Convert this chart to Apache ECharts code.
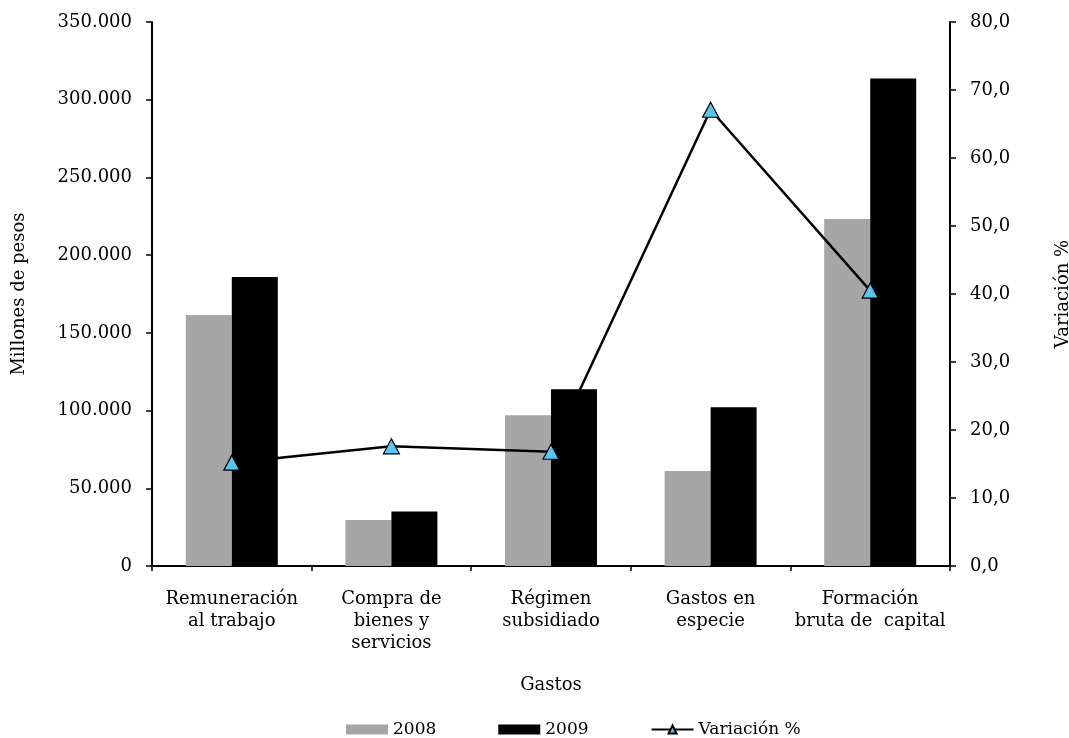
<!DOCTYPE html>
<html>
<head>
<meta charset="utf-8">
<script src="https://cdn.jsdelivr.net/npm/echarts@6/dist/echarts.min.js"></script>
<style>
html,body{margin:0;padding:0;background:#fff;}
#chart{width:1069px;height:738px;}
</style>
</head>
<body>
<div id="chart"></div>
<script>
const categories = ['Remuneración\nal trabajo', 'Compra de\nbienes y\nservicios', 'Régimen\nsubsidiado', 'Gastos en\nespecie', 'Formación\nbruta de  capital'];
const values2008 = [161500, 29600, 97000, 61200, 223200];
const values2009 = [186000, 35000, 113700, 102200, 313700];
const variacion = [15.2, 17.6, 16.8, 67.1, 40.5];
const seriesNames = ['2008', '2009', 'Variación %'];

const FONT = 'DejaVu Serif';
const chart = echarts.init(document.getElementById('chart'));

function fmtThousands(v) {
  return String(Math.round(v)).replace(/\B(?=(\d{3})+(?!\d))/g, '.');
}

chart.setOption({
  animation: false,
  textStyle: { fontFamily: FONT, color: '#000' },
  grid: { left: 152, right: 119, top: 22, bottom: 172, containLabel: false, outerBoundsMode: 'none' },
  legend: {
    top: 716,
    left: 341,
    itemGap: 62,
    itemWidth: 42,
    itemHeight: 10,
    textStyle: { fontFamily: FONT, fontSize: 17, color: '#000' },
    data: [
      { name: seriesNames[0], icon: 'rect' },
      { name: seriesNames[1], icon: 'rect' },
      { name: seriesNames[2] }
    ]
  },
  xAxis: {
    type: 'category',
    data: categories,
    name: 'Gastos',
    nameLocation: 'middle',
    nameGap: 110,
    nameTextStyle: { fontFamily: FONT, fontSize: 18, color: '#000' },
    axisLine: { lineStyle: { color: '#000', width: 2 } },
    axisTick: { show: true, length: 5, inside: false, lineStyle: { color: '#000', width: 1.5 } },
    axisLabel: { fontFamily: FONT, fontSize: 18, color: '#000', margin: 22, lineHeight: 22, interval: 0 }
  },
  yAxis: [
    {
      type: 'value',
      min: 0, max: 350000, interval: 50000,
      name: 'Millones de pesos',
      nameLocation: 'middle',
      nameRotate: 90,
      nameGap: 124,
      nameTextStyle: { fontFamily: FONT, fontSize: 18, color: '#000' },
      splitLine: { show: false },
      axisLine: { show: true, lineStyle: { color: '#000', width: 2 } },
      axisTick: { show: true, length: 6, lineStyle: { color: '#000', width: 1.5 } },
      axisLabel: { fontFamily: FONT, fontSize: 18, color: '#000', margin: 20, formatter: fmtThousands }
    },
    {
      type: 'value',
      min: 0, max: 80, interval: 10,
      name: 'Variación %',
      nameLocation: 'middle',
      nameRotate: 90,
      nameGap: 104,
      nameTextStyle: { fontFamily: FONT, fontSize: 18, color: '#000' },
      splitLine: { show: false },
      axisLine: { show: true, lineStyle: { color: '#000', width: 2 } },
      axisTick: { show: true, length: 6, lineStyle: { color: '#000', width: 1.5 } },
      axisLabel: { fontFamily: FONT, fontSize: 18, color: '#000', margin: 20, formatter: v => v.toFixed(1).replace('.', ',') }
    }
  ],
  series: [
    {
      name: seriesNames[0],
      type: 'bar',
      data: values2008,
      barWidth: 46,
      barGap: '0%',
      itemStyle: { color: '#A6A6A6' }
    },
    {
      name: seriesNames[1],
      type: 'bar',
      data: values2009,
      barWidth: 46,
      barGap: '0%',
      itemStyle: { color: '#000000' }
    },
    {
      name: seriesNames[2],
      type: 'line',
      yAxisIndex: 1,
      data: variacion,
      symbol: 'triangle',
      symbolSize: [16, 15],
      showAllSymbol: true,
      z: 5,
      lineStyle: { color: '#000', width: 2.5 },
      itemStyle: { color: '#5BC5F2', borderColor: '#000', borderWidth: 1.2 }
    }
  ]
});
</script>
</body>
</html>
